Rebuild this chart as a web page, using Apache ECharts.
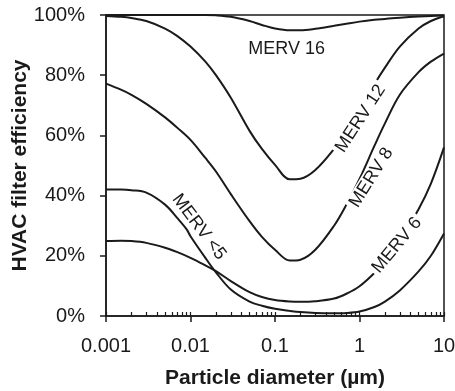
<!DOCTYPE html>
<html>
<head>
<meta charset="utf-8">
<script src="https://cdn.jsdelivr.net/npm/echarts@6/dist/echarts.min.js"></script>
<style>html,body{margin:0;padding:0;background:#fff}#c{width:455px;height:391px}</style>
</head>
<body>
<div id="c"></div>
<script>
// ---- data (particle diameter in µm, efficiency in %) ----
const xTickLabels = ['0.001', '0.01', '0.1', '1', '10'];
const yTicks = [0, 20, 40, 60, 80, 100];
const minorTickValues = [
  0.001,0.002,0.003,0.004,0.005,0.006,0.007,0.008,0.009,
  0.01,0.02,0.03,0.04,0.05,0.06,0.07,0.08,0.09,
  0.1,0.2,0.3,0.4,0.5,0.6,0.7,0.8,0.9,
  1,2,3,4,5,6,7,8,9,10
];
const seriesNames = ['MERV 16', 'MERV 12', 'MERV 8', 'MERV 6', 'MERV <5'];

// particle diameters at which the curves were read
const diam = [0.001,0.0015,0.002,0.003,0.005,0.007,0.01,0.015,0.02,0.03,0.05,0.07,0.1,0.15,0.2,0.3,0.5,0.7,1,1.5,2,3,5,7,10];
const merv16 = [100,100,100,100,100,100,100,100,99.9,99.4,98,96.7,95.5,94.9,94.9,95.4,96.4,97.1,97.8,98.4,98.7,99.1,99.5,99.7,99.8];
const merv12 = [99.7,99.4,99.0,98.0,95.5,93,89.5,84.5,80,72.5,61.5,55.5,50.2,45.4,45.6,48.5,55.5,61.5,68.5,77,82.5,89.5,95.5,98,99.6];
const merv8  = [77.2,75.2,73.5,70.5,66,62.5,58.5,52.5,48,40.5,31.5,26.3,22,18.4,18.7,22,30,37,45.5,56.5,64,73.5,81,84.5,87.2];
const merv6  = [24.9,25,24.9,24.3,22.7,21.2,19.3,16.8,14.9,11.6,7.9,6.3,5.3,4.8,4.7,4.9,5.8,7.4,9.9,14.3,18.3,25.3,35.5,44,56];
// MERV <5 has a kink near 0.009 µm, so it carries its own diameters
const diamLt5 = [0.001,0.0015,0.002,0.003,0.005,0.007,0.009,0.01,0.015,0.02,0.03,0.05,0.07,0.1,0.15,0.2,0.3,0.5,0.7,1,1.5,2,3,5,7,10];
const mervLt5 = [42,42,41.8,41,37,32.5,28.8,26.5,19.3,14.5,8.8,4.8,3.4,2.4,1.7,1.3,1.0,0.9,1.0,1.5,3.0,4.8,8.5,14.8,20,27.4];

// label anchors (data coords) and rotation
const labelAnchors = [[0.137, 88.8], [1.03, 65.6], [1.38, 46], [2.77, 23.5], [0.0126, 29.6]];
const labelRotations = [0, 57, 58, 50, -53];

const pairs = (xs, ys) => xs.map((x, i) => [x, ys[i]]);
const seriesData = [pairs(diam, merv16), pairs(diam, merv12), pairs(diam, merv8), pairs(diam, merv6), pairs(diamLt5, mervLt5)];
const INK = '#1a1a1a';
const FONT = '"Liberation Sans", Arial, sans-serif';

const chart = echarts.init(document.getElementById('c'), null, {renderer: 'canvas'});

const series = seriesData.map((d, i) => ({
  name: seriesNames[i],
  type: 'line',
  data: d,
  showSymbol: false,
  smooth: 0.35,
  lineStyle: {color: INK, width: 2},
  z: 3,
  markPoint: {
    z: 10,
    symbol: 'rect',
    symbolSize: 0,
    silent: true,
    data: [{coord: labelAnchors[i], name: seriesNames[i]}],
    label: {
      show: true,
      position: 'inside',
      formatter: seriesNames[i],
      rotate: labelRotations[i],
      color: INK,
      fontFamily: FONT,
      fontSize: 18,
      backgroundColor: i === 0 ? 'transparent' : '#fff',
      padding: [0, 3]
    }
  }
}));

chart.setOption({
  animation: false,
  backgroundColor: '#fff',
  grid: {left: 106, right: 11, top: 15, bottom: 75, outerBoundsMode: 'none', containLabel: false,
    show: true, borderColor: INK, borderWidth: 1.5, backgroundColor: 'transparent'},
  xAxis: [{
    type: 'log', logBase: 10, min: 0.001, max: 10,
    name: 'Particle diameter (µm)', nameLocation: 'middle', nameGap: 52, nameMoveOverlap: false,
    nameTextStyle: {fontFamily: FONT, fontWeight: 'bold', fontSize: 21, color: INK},
    axisLine: {lineStyle: {color: INK, width: 1.5}},
    axisTick: {length: 6, lineStyle: {color: INK, width: 1.5}},
    axisLabel: {fontFamily: FONT, fontSize: 20, color: INK, margin: 20, hideOverlap: false,
      formatter: (v, idx) => xTickLabels[idx]},
    splitLine: {show: false}
  }, {
    type: 'log', logBase: 10, min: 0.001, max: 10, position: 'bottom',
    axisLine: {show: false},
    axisTick: {show: true, inside: true, length: 4, customValues: minorTickValues, lineStyle: {color: INK, width: 1.2}},
    axisLabel: {show: false},
    splitLine: {show: false}
  }],
  yAxis: {
    type: 'value', min: yTicks[0], max: yTicks[yTicks.length - 1], interval: 20,
    name: 'HVAC filter efficiency', nameLocation: 'middle', nameGap: 75, nameMoveOverlap: false,
    nameTextStyle: {fontFamily: FONT, fontWeight: 'bold', fontSize: 21, color: INK},
    axisLine: {show: true, lineStyle: {color: INK, width: 1.5}},
    axisTick: {show: true, length: 6, lineStyle: {color: INK, width: 1.5}},
    axisLabel: {fontFamily: FONT, fontSize: 20, color: INK, margin: 21, formatter: '{value}%'},
    splitLine: {show: false}
  },
  series: series
});
</script>
</body>
</html>
